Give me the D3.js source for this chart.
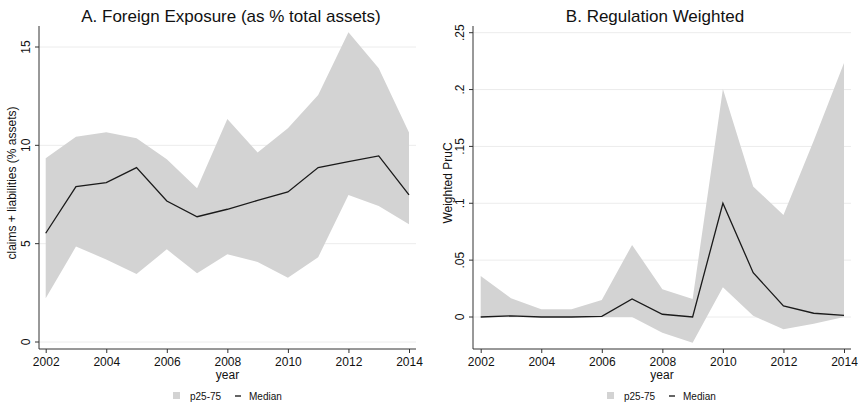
<!DOCTYPE html>
<html>
<head>
<meta charset="utf-8">
<script src="https://cdn.jsdelivr.net/npm/d3@7"></script>
<style>
  body { margin: 0; background: #fff; }
  svg { display: block; font-family: "Liberation Sans", Arial, sans-serif; }
</style>
</head>
<body>
<svg width="858" height="405"></svg>
<script>
const years = [2002, 2003, 2004, 2005, 2006, 2007, 2008, 2009, 2010, 2011, 2012, 2013, 2014]
const xTicks = [2002, 2004, 2006, 2008, 2010, 2012, 2014]

// panel A: foreign exposure
const expP25 = [2.22, 4.85, 4.2, 3.46, 4.71, 3.49, 4.46, 4.07, 3.27, 4.31, 7.48, 6.92, 5.99]
const expP75 = [9.34, 10.44, 10.67, 10.36, 9.29, 7.82, 11.34, 9.63, 10.87, 12.56, 15.75, 13.92, 10.65]
const expMedian = [5.53, 7.9, 8.1, 8.87, 7.17, 6.37, 6.75, 7.2, 7.63, 8.87, 9.17, 9.46, 7.48]
const expTicks = [0, 5, 10, 15]

// panel B: regulation weighted
const regP25 = [0, 0, 0, 0, 0, 0, -0.0138, -0.0226, 0.0261, 0.001, -0.0108, -0.006, 0]
const regP75 = [0.036, 0.0165, 0.0068, 0.0068, 0.015, 0.0634, 0.0244, 0.0158, 0.2004, 0.1147, 0.0898, 0.155, 0.2233]
const regMedian = [0, 0.001, 0, 0, 0.0005, 0.0158, 0.0024, 0, 0.1, 0.039, 0.0097, 0.0033, 0.0015]
const regTicks = [0, 0.05, 0.1, 0.15, 0.2, 0.25]
const regTickLabels = ['0', '.05', '.1', '.15', '.2', '.25']

const svg = d3.select('svg')
const FONT = 'Liberation Sans, Arial, sans-serif'

function drawPanel(opts) {
  const g = svg.append('g')
  const x = d3.scaleLinear().domain([2002, 2014]).range([opts.x0, opts.x1])
  // scale maps the lowest and highest tick to their pixel rows
  const y = d3.scaleLinear().domain(opts.yDomain).range([opts.yZero, opts.yTop])
  const base = 349, top = 26

  // gridlines
  g.selectAll('line.grid').data(opts.yTicks).enter().append('line')
    .attr('x1', opts.left).attr('x2', opts.right)
    .attr('y1', d => y(d)).attr('y2', d => y(d))
    .attr('stroke', '#ececec').attr('stroke-width', 1)

  const rows = years.map((yr, i) => ({ yr: yr, lo: opts.lo[i], hi: opts.hi[i], med: opts.med[i] }))

  g.append('path').datum(rows)
    .attr('fill', '#d3d3d3')
    .attr('d', d3.area().x(d => x(d.yr)).y0(d => y(d.lo)).y1(d => y(d.hi)))

  g.append('path').datum(rows)
    .attr('fill', 'none').attr('stroke', '#1a1a1a').attr('stroke-width', 1.3)
    .attr('d', d3.line().x(d => x(d.yr)).y(d => y(d.med)))

  // y axis (Stata style, labels turned on their side)
  const yAxis = d3.axisLeft(y).tickValues(opts.yTicks).tickSize(4).tickFormat((d, i) => opts.yLabels[i])
  const ya = g.append('g').attr('transform', `translate(${opts.left},0)`).call(yAxis)
  ya.select('.domain').attr('d', `M0,${base}V${top}`)
  ya.selectAll('.tick').attr('transform', null)
  ya.selectAll('.tick line').attr('y1', d => y(d)).attr('y2', d => y(d))
  ya.selectAll('line, .domain').attr('stroke', '#333')
  ya.selectAll('text')
    .attr('transform', 'rotate(-90)')
    .attr('dy', null).attr('text-anchor', 'middle')
    .attr('y', -9)
    .attr('x', d => -y(d))
    .attr('font-size', 12).attr('font-family', FONT).attr('fill', '#111')

  const xAxis = d3.axisBottom(x).tickValues(xTicks).tickSize(4).tickFormat(d3.format('d'))
  const xa = g.append('g').attr('transform', `translate(0,${base})`).call(xAxis)
  xa.select('.domain').attr('d', `M${opts.left},0H${opts.right}`)
  xa.selectAll('line, .domain').attr('stroke', '#333')
  xa.selectAll('text').attr('font-size', 12).attr('dy', '0.71em').attr('y', 8)
    .attr('font-family', FONT).attr('fill', '#111')

  const mid = (opts.left + opts.right) / 2
  g.append('text').attr('x', mid).attr('y', 379).attr('text-anchor', 'middle')
    .attr('font-size', 12).attr('fill', '#111').text('year')

  g.append('text')
    .attr('transform', `translate(${opts.titleX},183) rotate(-90)`)
    .attr('text-anchor', 'middle').attr('font-size', 12).attr('fill', '#111')
    .text(opts.yTitle)

  g.append('text').attr('x', opts.headX).attr('y', 22).attr('text-anchor', 'middle')
    .attr('font-size', 17).attr('fill', '#111').text(opts.title)

  // legend
  const lx = opts.legendX
  g.append('rect').attr('x', lx).attr('y', 392).attr('width', 7).attr('height', 7).attr('fill', '#d3d3d3')
  g.append('text').attr('x', lx + 17).attr('y', 400).attr('font-size', 10).attr('fill', '#111').text('p25-75')
  g.append('line').attr('x1', lx + 62).attr('x2', lx + 68).attr('y1', 396).attr('y2', 396)
    .attr('stroke', '#111').attr('stroke-width', 1.3)
  g.append('text').attr('x', lx + 76).attr('y', 400).attr('font-size', 10).attr('fill', '#111').text('Median')
}

drawPanel({
  x0: 45.7, x1: 409, left: 39, right: 416,
  yDomain: [0, 15], yZero: 342, yTop: 47,
  yTicks: expTicks, yLabels: expTicks.map(String),
  lo: expP25, hi: expP75, med: expMedian,
  title: 'A. Foreign Exposure (as % total assets)', headX: 231,
  yTitle: 'claims + liabilities (% assets)', titleX: 16,
  legendX: 173
})

drawPanel({
  x0: 480.7, x1: 844, left: 473, right: 851,
  yDomain: [0, 0.25], yZero: 317, yTop: 32.7,
  yTicks: regTicks, yLabels: regTickLabels,
  lo: regP25, hi: regP75, med: regMedian,
  title: 'B. Regulation Weighted', headX: 655,
  yTitle: 'Weighted PruC', titleX: 452,
  legendX: 607
})
</script>
</body>
</html>
